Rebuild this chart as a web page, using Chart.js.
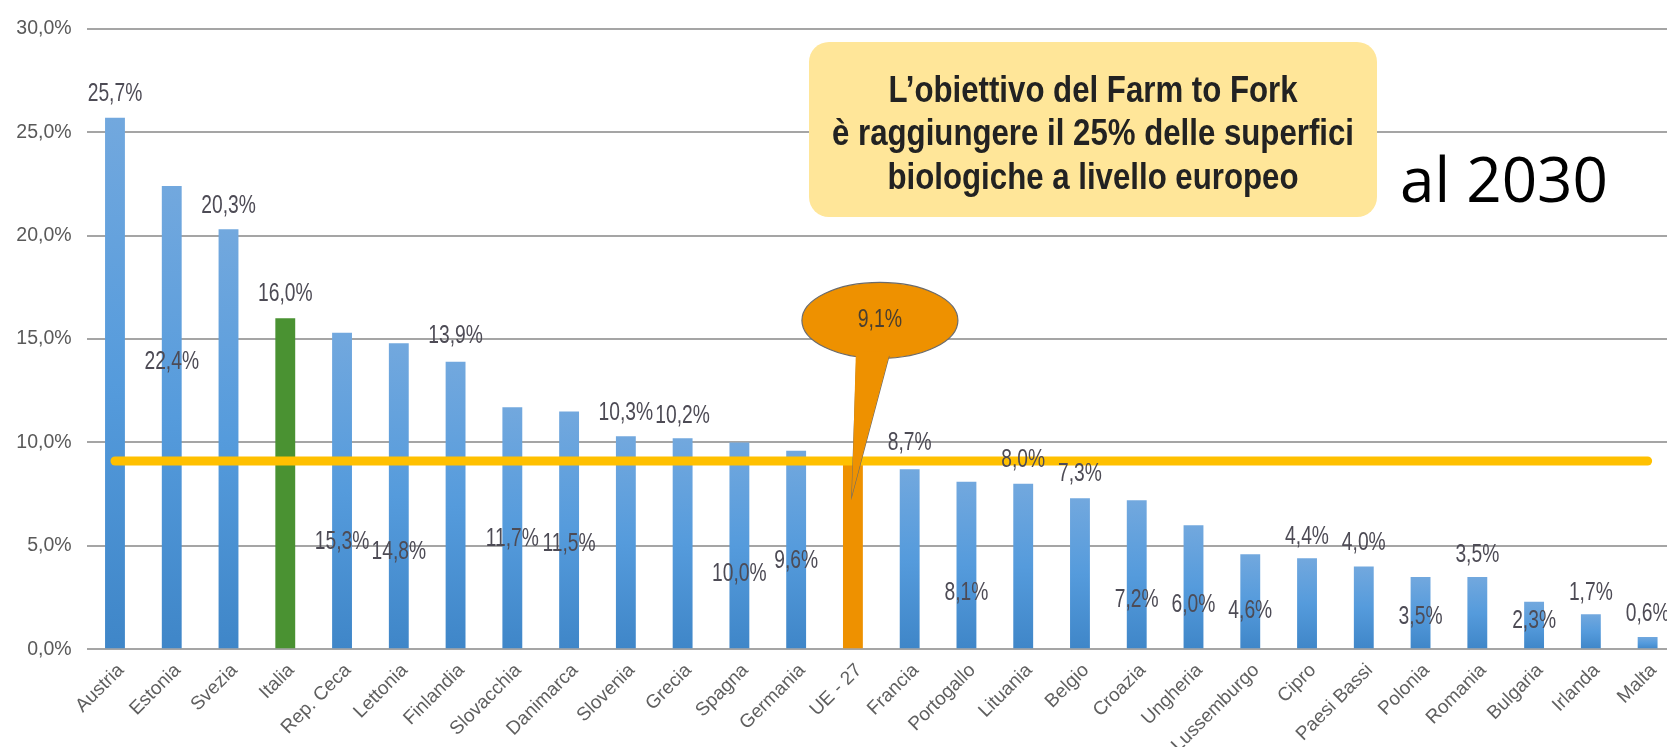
<!DOCTYPE html>
<html>
<head>
<meta charset="utf-8">
<script src="https://cdn.jsdelivr.net/npm/chart.js@4/dist/chart.umd.min.js"></script>
<style>
  html, body { margin: 0; padding: 0; overflow: hidden; background: #fff; }
  #wrap { position: relative; width: 1676px; height: 747px; }
</style>
</head>
<body>
<div id="wrap"><canvas id="chart"></canvas></div>
<script>
// superficie biologica sul totale SAU, per paese
const categories = ['Austria', 'Estonia', 'Svezia', 'Italia', 'Rep. Ceca', 'Lettonia', 'Finlandia',
    'Slovacchia', 'Danimarca', 'Slovenia', 'Grecia', 'Spagna', 'Germania', 'UE - 27', 'Francia',
    'Portogallo', 'Lituania', 'Belgio', 'Croazia', 'Ungheria', 'Lussemburgo', 'Cipro', 'Paesi Bassi',
    'Polonia', 'Romania', 'Bulgaria', 'Irlanda', 'Malta'];
const shares = [25.7, 22.4, 20.3, 16.0, 15.3, 14.8, 13.9, 11.7, 11.5, 10.3, 10.2, 10.0, 9.6, 9.1,
    8.7, 8.1, 8.0, 7.3, 7.2, 6.0, 4.6, 4.4, 4.0, 3.5, 3.5, 2.3, 1.7, 0.6];
const yTicks = [0, 5, 10, 15, 20, 25, 30];
const euAverage = 9.1;
const italyIndex = 3;
const euIndex = 13;
// the value labels sit at odd heights in the original (in axis units)
const labelLevels = [26.84, 13.89, 21.4, 17.17, 5.17, 4.72, 15.12, 5.33, 5.09, 11.44, 11.25, 3.64,
    4.24, null, 9.96, 2.74, 9.15, 8.48, 2.38, 2.14, 1.87, 5.44, 5.15, 1.56, 4.56, 1.37, 2.74, 1.69];
const noteLines = ['L\u2019obiettivo del Farm to Fork', '\u00e8 raggiungere il 25% delle superfici',
    'biologiche a livello europeo'];
const sideNote = 'al 2030';

const FONT = '"Liberation Sans", Arial, sans-serif';

function pct(v) {
    return v.toFixed(1).replace('.', ',') + '%';
}

// narrow text: squeeze the glyphs horizontally with fillText's maxWidth
function narrowText(ctx, text, x, y, squeeze) {
    let w = ctx.measureText(text).width;
    ctx.fillText(text, x, y, w * squeeze);
}

function barColor(c) {
    let i = c.dataIndex;
    if (i === italyIndex) return '#4a9232';
    if (i === euIndex) return '#ee9100';
    let chart = c.chart;
    if (!chart.chartArea) return '#4a8ccf';
    let y = chart.scales.y;
    let top = y.getPixelForValue(shares[i]);
    let g = chart.ctx.createLinearGradient(0, top, 0, y.getPixelForValue(0));
    g.addColorStop(0, '#72a8de');
    g.addColorStop(0.5, '#559bdc');
    g.addColorStop(1, '#3f86c8');
    return g;
}

const overlay = {
    id: 'overlay',
    afterDatasetsDraw(chart) {
        let ctx = chart.ctx;
        let y = chart.scales.y;
        let bars = chart.getDatasetMeta(0).data;

        // EU average line
        let ly = y.getPixelForValue(euAverage);
        ctx.save();
        ctx.strokeStyle = '#ffc000';
        ctx.lineWidth = 9;
        ctx.lineCap = 'round';
        ctx.beginPath();
        ctx.moveTo(bars[0].x, ly);
        ctx.lineTo(bars[bars.length - 1].x, ly);
        ctx.stroke();

        // value labels
        ctx.font = '25px ' + FONT;
        ctx.fillStyle = '#4d4b55';
        ctx.textAlign = 'center';
        ctx.textBaseline = 'middle';
        shares.forEach((v, i) => {
            if (labelLevels[i] === null) return;
            narrowText(ctx, pct(v), bars[i].x, y.getPixelForValue(labelLevels[i]), 0.77);
        });

        // callout bubble for UE - 27
        let bx = bars[euIndex].x;
        let cx = bx + 27, cy = y.getPixelForValue(15.9);
        ctx.fillStyle = '#ee9100';
        ctx.strokeStyle = '#6b6b6b';
        ctx.lineWidth = 1.2;
        ctx.beginPath();
        ctx.ellipse(cx, cy, 78, 38, 0, 0, Math.PI * 2);
        ctx.fill();
        ctx.stroke();
        ctx.beginPath();
        ctx.moveTo(cx - 23, cy + 33);
        ctx.lineTo(bx - 1, y.getPixelForValue(7.45));
        ctx.lineTo(cx + 9, cy + 36);
        ctx.stroke();
        ctx.beginPath();
        ctx.moveTo(cx - 24, cy + 30);
        ctx.lineTo(bx - 1, y.getPixelForValue(7.45));
        ctx.lineTo(cx + 10, cy + 32);
        ctx.closePath();
        ctx.fill();
        ctx.fillStyle = '#4a3f30';
        ctx.font = '25px ' + FONT;
        narrowText(ctx, pct(shares[euIndex]), cx, cy, 0.78);
        ctx.restore();
    },
    afterDraw(chart) {
        let ctx = chart.ctx;
        ctx.save();
        // yellow note box
        ctx.fillStyle = '#ffe699';
        ctx.beginPath();
        ctx.roundRect(809, 42, 568, 175, 20);
        ctx.fill();
        ctx.fillStyle = '#222222';
        ctx.textAlign = 'center';
        ctx.textBaseline = 'alphabetic';
        ctx.font = 'bold 36px ' + FONT;
        let squeeze = 522 / ctx.measureText(noteLines[1]).width;
        [101.5, 145, 189].forEach((ty, k) => narrowText(ctx, noteLines[k], 1093, ty, squeeze));

        ctx.fillStyle = '#000';
        ctx.textAlign = 'left';
        ctx.font = '62px "Open Sans", "Noto Sans", sans-serif';
        ctx.fillText(sideNote, 1400, 202);
        ctx.restore();
    }
};

Chart.defaults.font.family = FONT;

new Chart(document.getElementById('chart'), {
    type: 'bar',
    data: {
        labels: categories,
        datasets: [{
            data: shares,
            backgroundColor: barColor,
            categoryPercentage: 1,
            barPercentage: 0.35
        }]
    },
    options: {
        responsive: true,
        maintainAspectRatio: false,
        animation: false,
        layout: { padding: { top: 28.7, right: 0, left: 0, bottom: 0 } },
        plugins: { legend: { display: false }, tooltip: { enabled: false } },
        scales: {
            x: {
                grid: { display: false },
                border: { display: false },
                ticks: {
                    autoSkip: false,
                    maxRotation: 45,
                    minRotation: 45,
                    padding: 2,
                    labelOffset: 6,
                    color: '#5f5f5f',
                    font: { size: 19 }
                },
                afterFit(scale) { scale.height = 97.7; }
            },
            y: {
                min: 0,
                max: 30,
                afterBuildTicks(scale) { scale.ticks = yTicks.map(v => ({ value: v })); },
                grid: { color: '#a5a5a5', lineWidth: 2, drawTicks: false },
                border: { display: false },
                ticks: {
                    padding: 15,
                    color: '#595959',
                    font: { size: 19.5 },
                    callback: v => pct(v)
                },
                afterFit(scale) { scale.width = 86.6; }
            }
        }
    },
    plugins: [overlay]
});
</script>
</body>
</html>
